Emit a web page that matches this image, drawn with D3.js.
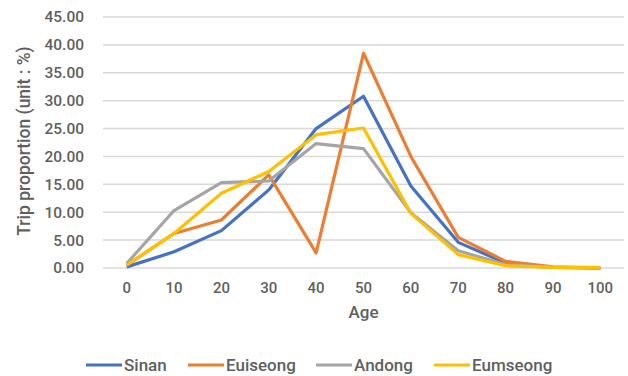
<!DOCTYPE html>
<html>
<head>
<meta charset="utf-8">
<script src="https://cdn.jsdelivr.net/npm/d3@7"></script>
<style>
  body { margin: 0; background: #fff; }
  svg text { font-family: Roboto, "Noto Sans", sans-serif; fill: #5f5f5f; }
</style>
</head>
<body>
<div class="chart"></div>
<script>
// 数据
const ages = [0, 10, 20, 30, 40, 50, 60, 70, 80, 90, 100]
const yTicks = [0, 5, 10, 15, 20, 25, 30, 35, 40, 45]
const seriesNames = ["Sinan", "Euiseong", "Andong", "Eumseong"]
const seriesColors = ["#4472C4", "#ED7D31", "#A5A5A5", "#FFC000"]
const sinan = [0.2, 2.9, 6.7, 14.0, 25.0, 30.8, 14.7, 4.6, 0.9, 0.1, 0]
const euiseong = [0.5, 6.2, 8.6, 16.7, 2.7, 38.5, 20.0, 5.5, 1.2, 0.2, 0]
const andong = [0.8, 10.3, 15.3, 15.6, 22.3, 21.4, 9.9, 3.1, 0.6, 0.1, 0]
const eumseong = [0.5, 6.2, 13.4, 17.3, 23.9, 25.1, 9.8, 2.4, 0.4, 0.1, 0.1]
const allSeries = [sinan, euiseong, andong, eumseong]

let width = 628, height = 376
let margin = { left: 103, right: 4, top: 17, bottom: 108 }
let svg = d3.select(".chart").append("svg")
    .attr("width", width)
    .attr("height", height)

let x = d3.scaleBand()
    .domain(ages)
    .range([margin.left, width - margin.right])
let y = d3.scaleLinear()
    .domain([0, 45])
    .range([height - margin.bottom, margin.top])

//网格线
svg.append("g")
    .selectAll("line")
    .data(yTicks)
    .enter()
    .append("line")
    .attr("x1", margin.left)
    .attr("x2", width - margin.right)
    .attr("y1", d => y(d))
    .attr("y2", d => y(d))
    .attr("stroke", "#d9d9d9")
    .attr("stroke-width", 1.5)

//y轴标签
svg.append("g")
    .selectAll("text")
    .data(yTicks)
    .enter()
    .append("text")
    .attr("x", 84)
    .attr("y", d => y(d))
    .attr("dy", "0.35em")
    .attr("text-anchor", "end")
    .attr("font-size", 15.5)
    .attr("font-weight", 500)
    .text(d => d.toFixed(2))

//x轴标签
svg.append("g")
    .selectAll("text")
    .data(ages)
    .enter()
    .append("text")
    .attr("x", d => x(d) + x.bandwidth() / 2)
    .attr("y", 288)
    .attr("dy", "0.35em")
    .attr("text-anchor", "middle")
    .attr("font-size", 15)
    .attr("font-weight", 500)
    .text(d => d)

svg.append("text")
    .attr("x", x(50) + x.bandwidth() / 2)
    .attr("y", 312)
    .attr("dy", "0.35em")
    .attr("text-anchor", "middle")
    .attr("font-size", 17)
    .attr("font-weight", 500)
    .text("Age")

svg.append("text")
    .attr("transform", `translate(24,141) rotate(-90)`)
    .attr("dy", "0.35em")
    .attr("text-anchor", "middle")
    .attr("font-size", 17.5)
    .attr("font-weight", 500)
    .text("Trip proportion (unit : %)")

//折线
let line = d3.line()
    .x((d, i) => x(ages[i]) + x.bandwidth() / 2)
    .y(d => y(d))
svg.append("g")
    .selectAll("path")
    .data(allSeries)
    .enter()
    .append("path")
    .attr("fill", "none")
    .attr("stroke", (d, i) => seriesColors[i])
    .attr("stroke-width", 3.2)
    .attr("stroke-linejoin", "round")
    .attr("d", d => line(d))

//图例
let legendX = [86, 188, 316, 434]
let legend = svg.append("g")
    .selectAll("g")
    .data(seriesNames)
    .enter()
    .append("g")
    .attr("transform", (d, i) => `translate(${legendX[i]},365)`)
legend.append("line")
    .attr("x1", 0)
    .attr("x2", 36)
    .attr("stroke", (d, i) => seriesColors[i])
    .attr("stroke-width", 3.2)
legend.append("text")
    .attr("x", 38)
    .attr("dy", "0.35em")
    .attr("font-size", 17)
    .attr("font-weight", 500)
    .text(d => d)
</script>
</body>
</html>
